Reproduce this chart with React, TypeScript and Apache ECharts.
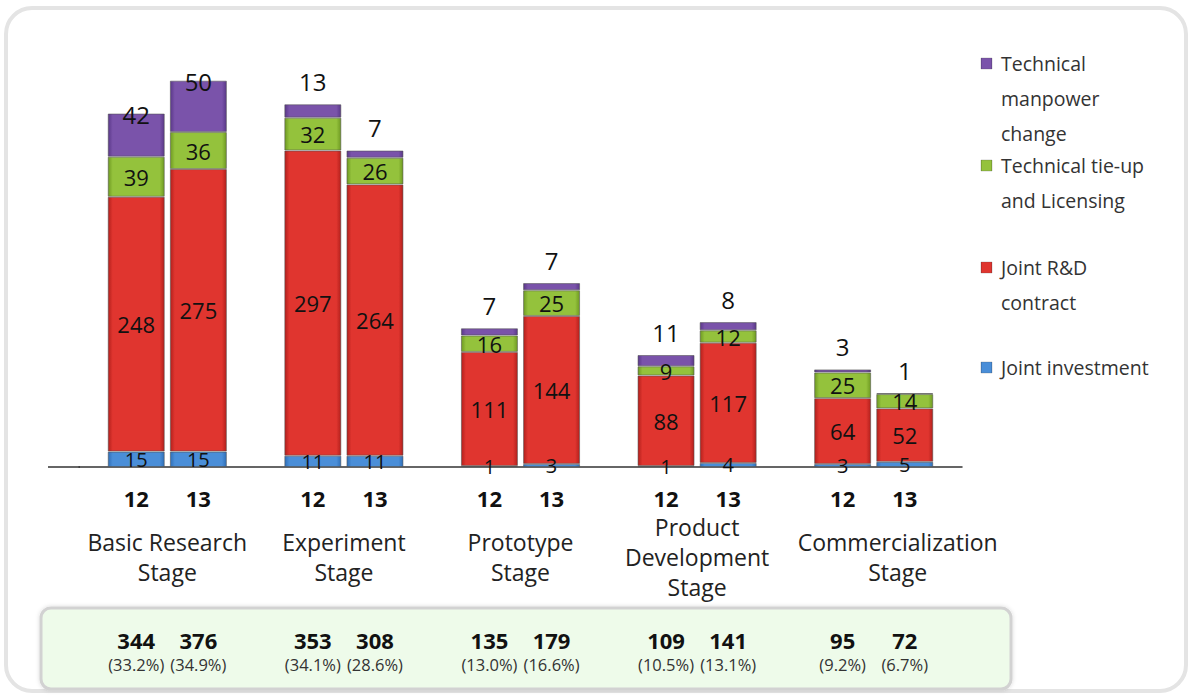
import React, { useEffect, useRef } from "react";
import * as echarts from "echarts";

// ---- data ----
const categories = [
  "Basic Research\nStage",
  "Experiment\nStage",
  "Prototype\nStage",
  "Product\nDevelopment\nStage",
  "Commercialization\nStage",
];
const years = ["12", "13"];
const seriesNames = [
  "Joint investment",
  "Joint R&D contract",
  "Technical tie-up and Licensing",
  "Technical manpower change",
];
const legendLabels = [
  "Joint investment",
  "Joint R&D\ncontract",
  "Technical tie-up\nand Licensing",
  "Technical\nmanpower\nchange",
];
const jointInvestment12 = [15, 11, 1, 1, 3];
const jointInvestment13 = [15, 11, 3, 4, 5];
const jointRD12 = [248, 297, 111, 88, 64];
const jointRD13 = [275, 264, 144, 117, 52];
const tieUp12 = [39, 32, 16, 9, 25];
const tieUp13 = [36, 26, 25, 12, 14];
const manpower12 = [42, 13, 7, 11, 3];
const manpower13 = [50, 7, 7, 8, 1];

const byYear: Record<string, number[][]> = {
  "12": [jointInvestment12, jointRD12, tieUp12, manpower12],
  "13": [jointInvestment13, jointRD13, tieUp13, manpower13],
};

const FONT = '"Open Sans", "Noto Sans", sans-serif';
const baseColors = ["#4a8ed8", "#e0352f", "#94c23c", "#7a53aa"];
const edgeColors = ["#2f6fb8", "#b3201c", "#6f9a22", "#5a3889"];
const labelSizes = [20, 22, 22, 24];

const grad = (base: string, edge: string) =>
  new echarts.graphic.LinearGradient(0, 0, 1, 0, [
    { offset: 0, color: edge },
    { offset: 0.08, color: base },
    { offset: 0.92, color: base },
    { offset: 1, color: edge },
  ]);

function buildOption() {
  const totals: Record<string, number[]> = {};
  const grand: Record<string, number> = {};
  years.forEach((y) => {
    totals[y] = categories.map((_, i) =>
      byYear[y].reduce((s, arr) => s + arr[i], 0)
    );
    grand[y] = totals[y].reduce((s, v) => s + v, 0);
  });

  const series: any[] = [];
  years.forEach((y) => {
    // helper series carrying the year label and totals under each bar
    series.push({
      name: "year-" + y,
      type: "bar",
      stack: y,
      barWidth: 57,
      barGap: "9%",
      data: categories.map(() => 0),
      itemStyle: { color: "transparent" },
      silent: true,
      label: {
        show: true,
        position: "bottom",
        distance: 20,
        formatter: (p: any) => {
          const t = totals[y][p.dataIndex];
          const pct = ((t / grand[y]) * 100).toFixed(1);
          return `{yr|${y}}\n{sp| }\n{tot|${t}}\n{pct|(${pct}%)}`;
        },
        rich: {
          yr: { fontFamily: FONT, fontSize: 22, fontWeight: "bold", color: "#111", lineHeight: 22 },
          sp: { fontSize: 10, lineHeight: 117 },
          tot: { fontFamily: FONT, fontSize: 22, fontWeight: "bold", color: "#111", lineHeight: 27 },
          pct: { fontFamily: FONT, fontSize: 16.5, color: "#333", lineHeight: 22 },
        },
      },
    });
    seriesNames.forEach((name, k) => {
      const vals = byYear[y][k];
      series.push({
        name,
        type: "bar",
        stack: y,
        barWidth: 57,
        barGap: "9%",
        itemStyle: {
          color: grad(baseColors[k], edgeColors[k]),
          borderColor: "rgba(80,80,80,0.55)",
          borderWidth: 1,
        },
        label: {
          show: true,
          position: k === 3 ? "top" : "inside",
          fontFamily: FONT,
          fontSize: labelSizes[k],
          color: "#111",
        },
        data:
          k === 3
            ? vals.map((v) => ({ value: v, label: { distance: v >= 30 ? -13 : 11 } }))
            : vals,
      });
    });
  });

  // legend drawn as graphic (icon at first text line)
  const legendTops = [367, 267, 165, 63];
  const legendItems: any[] = [];
  legendLabels.forEach((txt, k) => {
    const cy = legendTops[k];
    legendItems.push({
      type: "rect",
      shape: { x: 981, y: cy - 5, width: 11, height: 11 },
      style: { fill: grad(baseColors[k], edgeColors[k]), stroke: "rgba(80,80,80,0.5)", lineWidth: 0.5 },
    });
    legendItems.push({
      type: "text",
      x: 1001,
      y: cy - 17.5,
      style: {
        text: txt,
        font: `19.5px ${FONT}`,
        fill: "#333",
        lineHeight: 35,
        verticalAlign: "top",
        align: "left",
      },
    });
  });

  return {
    animation: false,
    backgroundColor: "#ffffff",
    grid: { left: 79, right: 230, top: 56, bottom: 229 },
    xAxis: {
      type: "category",
      data: categories,
      axisLine: { show: true, lineStyle: { color: "#333", width: 1.5 } },
      axisTick: { show: false },
      axisLabel: {
        interval: 0,
        margin: 90,
        verticalAlign: "middle",
        fontFamily: FONT,
        fontSize: 23,
        lineHeight: 30,
        color: "#222",
        formatter: (v: string, i: number) => {
          const lines = v.split("\n");
          const style = i === categories.length - 1 ? "s" : "n";
          return lines.map((l) => `{${style}|${l}}`).join("\n");
        },
        rich: {
          n: { fontFamily: FONT, fontSize: 23, lineHeight: 30, color: "#222" },
          s: { fontFamily: FONT, fontSize: 23, lineHeight: 30, color: "#222", padding: [0, 0, 0, 48] },
        },
      },
    },
    yAxis: { type: "value", min: 0, max: 400, show: false, splitLine: { show: false } },
    series,
    graphic: [
      {
        type: "rect",
        z: -10,
        shape: { x: 6, y: 8, width: 1180, height: 683, r: 26 },
        style: { fill: "none", stroke: "#e4e4e4", lineWidth: 4 },
      },
      {
        type: "rect",
        z: -5,
        shape: { x: 41, y: 608, width: 970, height: 81, r: 10 },
        style: {
          fill: "#eefbea",
          stroke: "#d2d2d2",
          lineWidth: 3,
          shadowBlur: 4,
          shadowColor: "rgba(0,0,0,0.15)",
        },
      },
      {
        type: "line",
        shape: { x1: 48, y1: 467, x2: 80, y2: 467 },
        style: { stroke: "#333", lineWidth: 1.5 },
      },
      ...legendItems,
    ],
  };
}

export default function App() {
  const ref = useRef<HTMLDivElement>(null);
  useEffect(() => {
    document.body.style.margin = "0";
    const chart = echarts.init(ref.current!, undefined, { renderer: "svg" });
    chart.setOption(buildOption() as any);
    return () => chart.dispose();
  }, []);
  return <div ref={ref} style={{ width: 1192, height: 696 }} />;
}
